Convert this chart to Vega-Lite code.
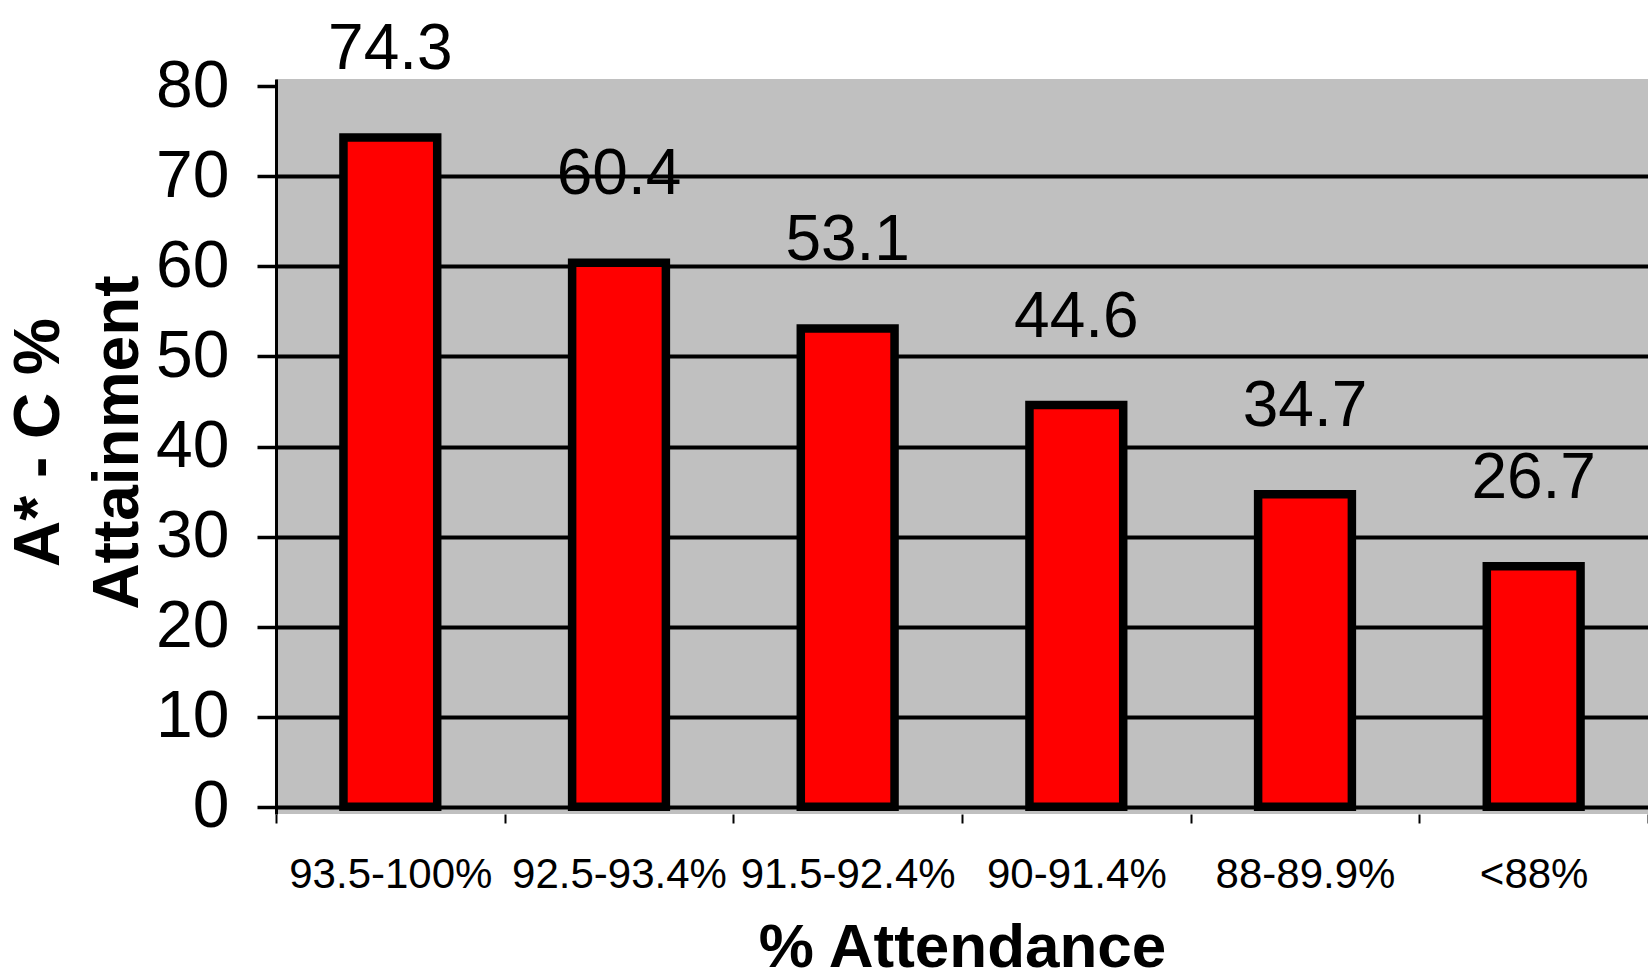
{
  "$schema": "https://vega.github.io/schema/vega-lite/v6.json",
  "width": 1372,
  "height": 735,
  "autosize": {"type": "none"},
  "padding": {"left": 276, "top": 79, "right": 0, "bottom": 164},
  "background": "white",
  "config": {
    "view": {"fill": "#C0C0C0", "stroke": null},
    "font": "Liberation Sans"
  },
  "data": {
    "values": [
      {"attendance": "93.5-100%", "value": 74.3},
      {"attendance": "92.5-93.4%", "value": 60.4},
      {"attendance": "91.5-92.4%", "value": 53.1},
      {"attendance": "90-91.4%", "value": 44.6},
      {"attendance": "88-89.9%", "value": 34.7},
      {"attendance": "<88%", "value": 26.7}
    ]
  },
  "encoding": {
    "x": {
      "field": "attendance",
      "type": "nominal",
      "sort": null,
      "scale": {"paddingInner": 0, "paddingOuter": 0},
      "axis": {
        "title": "% Attendance",
        "titleFont": "Liberation Sans",
        "titleFontWeight": "bold",
        "titleFontSize": 62,
        "titleColor": "black",
        "titleX": 686,
        "titleY": 152,
        "titleAlign": "center",
        "titleBaseline": "alphabetic",
        "labelAngle": 0,
        "labelFont": "Liberation Sans",
        "labelFontSize": 42,
        "labelColor": "black",
        "labelBaseline": "alphabetic",
        "labelPadding": 64,
        "labelLimit": 0,
        "labelOverlap": false,
        "tickBand": "extent",
        "ticks": true,
        "tickSize": 9,
        "tickWidth": 2,
        "tickColor": "black",
        "domain": false,
        "grid": false
      }
    },
    "y": {
      "field": "value",
      "type": "quantitative",
      "scale": {"domain": [-0.8, 80.8], "nice": false, "zero": false},
      "axis": {
        "values": [0, 10, 20, 30, 40, 50, 60, 70, 80],
        "grid": true,
        "gridColor": "black",
        "gridWidth": 4,
        "gridOpacity": {"condition": {"test": "datum.value >= 80", "value": 0}, "value": 1},
        "domain": true,
        "domainColor": "black",
        "domainWidth": 3,
        "ticks": true,
        "tickColor": "black",
        "tickSize": 19,
        "tickWidth": 3.5,
        "labelFont": "Liberation Sans",
        "labelFontSize": 66,
        "labelColor": "black",
        "labelPadding": 28,
        "labelFlush": false,
        "labelOverlap": false,
        "labelLimit": 0,
        "title": ["A* - C %", "Attainment"],
        "titleFont": "Liberation Sans",
        "titleFontWeight": "bold",
        "titleFontSize": 64,
        "titleColor": "black",
        "titleAngle": -90,
        "titleX": -218,
        "titleY": 363,
        "titleAlign": "center",
        "titleBaseline": "alphabetic",
        "titleLineHeight": 79
      }
    }
  },
  "layer": [
    {
      "mark": {"type": "bar", "fill": "#FF0000", "stroke": "black", "strokeWidth": 8.5, "width": {"band": 0.41}},
      "encoding": {"y2": {"datum": 0}}
    },
    {
      "mark": {"type": "text", "baseline": "alphabetic", "align": "center", "dy": -68.5, "font": "Liberation Sans", "fontSize": 64, "color": "black"},
      "encoding": {"text": {"field": "value", "type": "quantitative", "format": ".1f"}}
    }
  ]
}
